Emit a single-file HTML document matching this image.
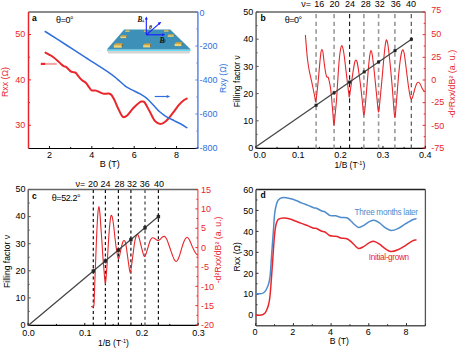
<!DOCTYPE html>
<html><head><meta charset="utf-8"><style>
html,body{margin:0;padding:0;background:#fff;}
svg{display:block;}
text{font-family:"Liberation Sans", sans-serif;}
</style></head><body>
<svg width="458" height="349" viewBox="0 0 458 349">
<rect width="458" height="349" fill="#fff"/>
<line x1="28.50" y1="12.00" x2="197.90" y2="12.00" stroke="#666" stroke-width="1.3" />
<line x1="28.50" y1="148.50" x2="197.90" y2="148.50" stroke="#000" stroke-width="1.2" />
<line x1="28.50" y1="12.00" x2="28.50" y2="148.50" stroke="#e8262b" stroke-width="1.5" />
<line x1="197.90" y1="12.00" x2="197.90" y2="148.50" stroke="#5b86e6" stroke-width="1.5" />
<line x1="49.48" y1="148.50" x2="49.48" y2="146.00" stroke="#111" stroke-width="1" />
<line x1="70.66" y1="148.50" x2="70.66" y2="147.00" stroke="#111" stroke-width="1" />
<line x1="91.84" y1="148.50" x2="91.84" y2="146.00" stroke="#111" stroke-width="1" />
<line x1="113.02" y1="148.50" x2="113.02" y2="147.00" stroke="#111" stroke-width="1" />
<line x1="134.20" y1="148.50" x2="134.20" y2="146.00" stroke="#111" stroke-width="1" />
<line x1="155.38" y1="148.50" x2="155.38" y2="147.00" stroke="#111" stroke-width="1" />
<line x1="176.56" y1="148.50" x2="176.56" y2="146.00" stroke="#111" stroke-width="1" />
<line x1="197.74" y1="148.50" x2="197.74" y2="147.00" stroke="#111" stroke-width="1" />
<text x="49.48" y="157.50" font-size="9" fill="#000" text-anchor="middle" font-weight="normal" >2</text>
<text x="91.84" y="157.50" font-size="9" fill="#000" text-anchor="middle" font-weight="normal" >4</text>
<text x="134.20" y="157.50" font-size="9" fill="#000" text-anchor="middle" font-weight="normal" >6</text>
<text x="176.56" y="157.50" font-size="9" fill="#000" text-anchor="middle" font-weight="normal" >8</text>
<text x="109.75" y="167.30" font-size="9" fill="#000" text-anchor="middle" font-weight="normal" textLength="20.20" lengthAdjust="spacingAndGlyphs" >B (T)</text>
<line x1="28.50" y1="125.30" x2="31.00" y2="125.30" stroke="#e8262b" stroke-width="1" />
<line x1="28.50" y1="102.60" x2="30.00" y2="102.60" stroke="#e8262b" stroke-width="1" />
<line x1="28.50" y1="79.90" x2="31.00" y2="79.90" stroke="#e8262b" stroke-width="1" />
<line x1="28.50" y1="57.20" x2="30.00" y2="57.20" stroke="#e8262b" stroke-width="1" />
<line x1="28.50" y1="34.50" x2="31.00" y2="34.50" stroke="#e8262b" stroke-width="1" />
<text x="25.20" y="127.90" font-size="9" fill="#e8262b" text-anchor="end" font-weight="normal" >30</text>
<text x="25.20" y="82.50" font-size="9" fill="#e8262b" text-anchor="end" font-weight="normal" >40</text>
<text x="25.20" y="37.10" font-size="9" fill="#e8262b" text-anchor="end" font-weight="normal" >50</text>
<text transform="translate(7.70,82.10) rotate(-90)" font-size="8.6" fill="#e8262b" text-anchor="middle" textLength="30.00" lengthAdjust="spacingAndGlyphs">Rxx (&#937;)</text>
<line x1="197.90" y1="12.00" x2="195.40" y2="12.00" stroke="#5b86e6" stroke-width="1" />
<line x1="197.90" y1="29.00" x2="196.40" y2="29.00" stroke="#5b86e6" stroke-width="1" />
<line x1="197.90" y1="46.00" x2="195.40" y2="46.00" stroke="#5b86e6" stroke-width="1" />
<line x1="197.90" y1="63.00" x2="196.40" y2="63.00" stroke="#5b86e6" stroke-width="1" />
<line x1="197.90" y1="80.00" x2="195.40" y2="80.00" stroke="#5b86e6" stroke-width="1" />
<line x1="197.90" y1="97.00" x2="196.40" y2="97.00" stroke="#5b86e6" stroke-width="1" />
<line x1="197.90" y1="114.00" x2="195.40" y2="114.00" stroke="#5b86e6" stroke-width="1" />
<line x1="197.90" y1="131.00" x2="196.40" y2="131.00" stroke="#5b86e6" stroke-width="1" />
<line x1="197.90" y1="148.00" x2="195.40" y2="148.00" stroke="#5b86e6" stroke-width="1" />
<text x="199.50" y="16.00" font-size="9" fill="#2f6fdc" text-anchor="start" font-weight="normal" >0</text>
<text x="199.50" y="49.20" font-size="9" fill="#2f6fdc" text-anchor="start" font-weight="normal" >-200</text>
<text x="199.50" y="83.20" font-size="9" fill="#2f6fdc" text-anchor="start" font-weight="normal" >-400</text>
<text x="199.50" y="117.20" font-size="9" fill="#2f6fdc" text-anchor="start" font-weight="normal" >-600</text>
<text x="199.50" y="151.20" font-size="9" fill="#2f6fdc" text-anchor="start" font-weight="normal" >-800</text>
<text transform="translate(225.70,78.25) rotate(-90)" font-size="8.6" fill="#2f6fdc" text-anchor="middle" textLength="29.40" lengthAdjust="spacingAndGlyphs">Rxy (&#937;)</text>
<text x="32.10" y="20.80" font-size="8.5" fill="#000" text-anchor="start" font-weight="bold" >a</text>
<text x="64.85" y="22.50" font-size="9" fill="#000" text-anchor="middle" font-weight="normal" textLength="17.60" lengthAdjust="spacing" >&#952;=0&#176;</text>
<polygon points="106.8,49.4 190.8,49.4 190.3,51.0 107.3,51.0" fill="#66def5"/>
<polygon points="107.3,51.0 190.3,51.0 189.4,53.4 108.4,53.4" fill="#d6d3d3"/>
<polygon points="124.2,29.6 170.2,29.6 190.8,49.4 106.8,49.4" fill="#3d90b8"/>
<polygon points="125.8,30.0 130.2,30.0 129.8,30.8 125.2,30.8" fill="#d6a23c"/>
<rect x="125.2" y="30.8" width="4.6" height="0.9" fill="#f0d470"/>
<polygon points="129.8,30.8 130.2,30.0 130.2,31.0 129.8,31.7" fill="#8a6420"/>
<polygon points="144.3,30.2 146.9,30.2 146.6,30.9 143.8,30.9" fill="#d6a23c"/>
<rect x="143.8" y="30.9" width="2.8" height="0.8" fill="#f0d470"/>
<polygon points="146.6,30.9 146.9,30.2 146.9,31.1 146.6,31.7" fill="#8a6420"/>
<polygon points="164.6,29.9 169.0,29.9 168.6,30.7 164.0,30.7" fill="#d6a23c"/>
<rect x="164.0" y="30.7" width="4.6" height="0.9" fill="#f0d470"/>
<polygon points="168.6,30.7 169.0,29.9 169.0,30.9 168.6,31.6" fill="#8a6420"/>
<polygon points="121.3,35.2 126.9,35.2 126.3,36.5 120.3,36.5" fill="#d6a23c"/>
<rect x="120.3" y="36.5" width="6.0" height="1.6" fill="#f0d470"/>
<polygon points="126.3,36.5 126.9,35.2 126.9,36.9 126.3,38.1" fill="#8a6420"/>
<polygon points="168.7,34.2 174.3,34.2 173.8,35.4 167.8,35.4" fill="#d6a23c"/>
<rect x="167.8" y="35.4" width="6.0" height="1.4" fill="#f0d470"/>
<polygon points="173.8,35.4 174.3,34.2 174.3,35.8 173.8,36.8" fill="#8a6420"/>
<polygon points="115.4,43.2 122.7,43.2 121.8,45.2 113.8,45.2" fill="#d6a23c"/>
<rect x="113.8" y="45.2" width="8.0" height="2.5" fill="#f0d470"/>
<polygon points="121.8,45.2 122.7,43.2 122.7,45.9 121.8,47.7" fill="#8a6420"/>
<polygon points="144.6,43.4 151.0,43.4 150.2,45.2 143.2,45.2" fill="#d6a23c"/>
<rect x="143.2" y="45.2" width="7.0" height="2.2" fill="#f0d470"/>
<polygon points="150.2,45.2 151.0,43.4 151.0,45.8 150.2,47.4" fill="#8a6420"/>
<polygon points="176.0,42.2 182.4,42.2 181.6,44.0 174.6,44.0" fill="#d6a23c"/>
<rect x="174.6" y="44.0" width="7.0" height="2.1" fill="#f0d470"/>
<polygon points="181.6,44.0 182.4,42.2 182.4,44.5 181.6,46.1" fill="#8a6420"/>
<line x1="146.30" y1="34.80" x2="146.30" y2="18.50" stroke="#1a1aff" stroke-width="1.1" />
<polygon points="146.3,16.5 144.8,19.5 147.8,19.5" fill="#1a1aff"/>
<line x1="146.30" y1="34.80" x2="162.80" y2="34.80" stroke="#1a1aff" stroke-width="1.1" />
<polygon points="165.2,34.8 162.2,33.3 162.2,36.3" fill="#1a1aff"/>
<line x1="146.30" y1="34.80" x2="159.50" y2="23.30" stroke="#1a1aff" stroke-width="1.1" />
<polygon points="161.3,21.7 157.6,22.7 159.6,25" fill="#1a1aff"/>
<text x="137.6" y="21.7" font-size="7.2" style="font-family:&quot;Liberation Serif&quot;, serif;font-style:italic;font-weight:bold" fill="#111">B</text>
<path d="M143.3,19.6 L143.3,21.6 M142.2,21.6 L144.4,21.6" stroke="#111" stroke-width="0.5" fill="none"/>
<text x="149.0" y="28.5" font-size="5.6" style="font-family:&quot;Liberation Serif&quot;, serif;font-style:italic;font-weight:bold" fill="#111">&#952;</text>
<text x="159.4" y="42.8" font-size="7.6" style="font-family:&quot;Liberation Serif&quot;, serif;font-style:italic;font-weight:bold" fill="#111">B</text>
<path d="M164.2,39.6 L163.5,42.6 M165.4,39.6 L164.7,42.6" stroke="#111" stroke-width="0.45" fill="none"/>
<path d="M45.50,52.60 C46.17,52.97 48.18,54.03 49.50,54.80 C50.82,55.57 52.10,56.27 53.40,57.20 C54.70,58.13 56.12,59.35 57.30,60.40 C58.48,61.45 59.45,62.55 60.50,63.50 C61.55,64.45 62.68,65.53 63.60,66.10 C64.52,66.67 65.20,66.40 66.00,66.90 C66.80,67.40 67.62,68.35 68.40,69.10 C69.18,69.85 69.92,70.90 70.70,71.40 C71.48,71.90 72.30,71.90 73.10,72.10 C73.90,72.30 74.72,72.07 75.50,72.60 C76.28,73.13 77.13,74.47 77.80,75.30 C78.47,76.13 78.73,76.73 79.50,77.60 C80.27,78.47 81.35,79.63 82.40,80.50 C83.45,81.37 84.67,81.65 85.80,82.80 C86.93,83.95 88.25,86.15 89.20,87.40 C90.15,88.65 90.35,89.77 91.50,90.30 C92.65,90.83 94.57,90.22 96.10,90.60 C97.63,90.98 99.37,92.07 100.70,92.60 C102.03,93.13 102.77,93.65 104.10,93.80 C105.43,93.95 107.47,93.30 108.70,93.50 C109.93,93.70 110.57,93.97 111.50,95.00 C112.43,96.03 113.12,97.30 114.30,99.70 C115.48,102.10 117.17,106.53 118.60,109.40 C120.03,112.27 121.47,115.90 122.90,116.90 C124.33,117.90 125.42,116.92 127.20,115.40 C128.98,113.88 131.50,110.00 133.60,107.80 C135.70,105.60 138.37,103.23 139.80,102.20 C141.23,101.17 141.40,101.57 142.20,101.60 C143.00,101.63 143.35,100.75 144.60,102.40 C145.85,104.05 147.95,108.37 149.70,111.50 C151.45,114.63 153.30,119.12 155.10,121.20 C156.90,123.28 158.72,124.00 160.50,124.00 C162.28,124.00 163.83,122.92 165.80,121.20 C167.77,119.48 170.15,116.38 172.30,113.70 C174.45,111.02 176.78,107.35 178.70,105.10 C180.62,102.85 182.45,101.28 183.80,100.20 C185.15,99.12 186.30,98.87 186.80,98.60" fill="none" stroke="#e8262b" stroke-width="2.0" stroke-linejoin="round" stroke-linecap="round" />
<path d="M45.20,31.50 C48.72,33.75 59.53,40.65 66.30,45.00 C73.07,49.35 78.52,52.88 85.80,57.60 C93.08,62.32 104.72,69.68 110.00,73.30 C115.28,76.92 115.00,77.22 117.50,79.30 C120.00,81.38 122.67,84.08 125.00,85.80 C127.33,87.52 128.98,88.25 131.50,89.60 C134.02,90.95 137.60,92.47 140.10,93.90 C142.60,95.33 144.35,96.40 146.50,98.20 C148.65,100.00 150.85,102.48 153.00,104.70 C155.15,106.92 157.27,109.57 159.40,111.50 C161.53,113.43 163.30,114.75 165.80,116.30 C168.30,117.85 171.88,119.52 174.40,120.80 C176.92,122.08 178.82,122.85 180.90,124.00 C182.98,125.15 185.90,127.08 186.90,127.70" fill="none" stroke="#2f6fdc" stroke-width="1.5" stroke-linejoin="round" stroke-linecap="round" />
<rect x="45.1" y="62.9" width="11.6" height="2.0" fill="#f2a3a5"/>
<rect x="40.8" y="62.8" width="4.4" height="2.2" fill="#e8262b"/>
<line x1="154.70" y1="96.50" x2="167.50" y2="96.50" stroke="#2f6fdc" stroke-width="1.2" />
<polygon points="170.2,96.5 166.8,95 166.8,98" fill="#2f6fdc"/>
<line x1="256.10" y1="12.00" x2="425.20" y2="12.00" stroke="#666" stroke-width="1.3" />
<line x1="256.10" y1="148.40" x2="425.20" y2="148.40" stroke="#000" stroke-width="1.2" />
<line x1="256.10" y1="12.00" x2="256.10" y2="148.40" stroke="#666" stroke-width="1.5" />
<line x1="425.20" y1="12.00" x2="425.20" y2="148.40" stroke="#ec3f44" stroke-width="1.1" />
<line x1="316.10" y1="14.00" x2="316.10" y2="148.40" stroke="#999" stroke-width="1.6" stroke-dasharray="4.3 3.37"/>
<line x1="334.10" y1="14.00" x2="334.10" y2="148.40" stroke="#999" stroke-width="1.6" stroke-dasharray="4.3 3.37"/>
<line x1="349.60" y1="14.00" x2="349.60" y2="148.40" stroke="#111" stroke-width="1.1" stroke-dasharray="4.3 3.37"/>
<line x1="363.90" y1="14.00" x2="363.90" y2="148.40" stroke="#999" stroke-width="1.6" stroke-dasharray="4.3 3.37"/>
<line x1="378.60" y1="14.00" x2="378.60" y2="148.40" stroke="#999" stroke-width="1.6" stroke-dasharray="4.3 3.37"/>
<line x1="394.90" y1="14.00" x2="394.90" y2="148.40" stroke="#888" stroke-width="1.4" stroke-dasharray="4.3 3.37"/>
<line x1="411.30" y1="14.00" x2="411.30" y2="148.40" stroke="#555" stroke-width="1.2" stroke-dasharray="4.3 3.37"/>
<line x1="256.10" y1="148.00" x2="258.60" y2="148.00" stroke="#555" stroke-width="1" />
<line x1="256.10" y1="134.40" x2="257.60" y2="134.40" stroke="#555" stroke-width="1" />
<line x1="256.10" y1="120.80" x2="258.60" y2="120.80" stroke="#555" stroke-width="1" />
<line x1="256.10" y1="107.20" x2="257.60" y2="107.20" stroke="#555" stroke-width="1" />
<line x1="256.10" y1="93.60" x2="258.60" y2="93.60" stroke="#555" stroke-width="1" />
<line x1="256.10" y1="80.00" x2="257.60" y2="80.00" stroke="#555" stroke-width="1" />
<line x1="256.10" y1="66.40" x2="258.60" y2="66.40" stroke="#555" stroke-width="1" />
<line x1="256.10" y1="52.80" x2="257.60" y2="52.80" stroke="#555" stroke-width="1" />
<line x1="256.10" y1="39.20" x2="258.60" y2="39.20" stroke="#555" stroke-width="1" />
<line x1="256.10" y1="25.60" x2="257.60" y2="25.60" stroke="#555" stroke-width="1" />
<line x1="256.10" y1="12.00" x2="258.60" y2="12.00" stroke="#555" stroke-width="1" />
<text x="253.30" y="151.20" font-size="9" fill="#000" text-anchor="end" font-weight="normal" >0</text>
<text x="253.30" y="124.00" font-size="9" fill="#000" text-anchor="end" font-weight="normal" >10</text>
<text x="253.30" y="96.80" font-size="9" fill="#000" text-anchor="end" font-weight="normal" >20</text>
<text x="253.30" y="69.60" font-size="9" fill="#000" text-anchor="end" font-weight="normal" >30</text>
<text x="253.30" y="42.40" font-size="9" fill="#000" text-anchor="end" font-weight="normal" >40</text>
<text x="253.30" y="15.20" font-size="9" fill="#000" text-anchor="end" font-weight="normal" >50</text>
<line x1="255.90" y1="148.40" x2="255.90" y2="145.90" stroke="#111" stroke-width="1" />
<line x1="277.07" y1="148.40" x2="277.07" y2="146.90" stroke="#111" stroke-width="1" />
<line x1="298.25" y1="148.40" x2="298.25" y2="145.90" stroke="#111" stroke-width="1" />
<line x1="319.43" y1="148.40" x2="319.43" y2="146.90" stroke="#111" stroke-width="1" />
<line x1="340.60" y1="148.40" x2="340.60" y2="145.90" stroke="#111" stroke-width="1" />
<line x1="361.77" y1="148.40" x2="361.77" y2="146.90" stroke="#111" stroke-width="1" />
<line x1="382.95" y1="148.40" x2="382.95" y2="145.90" stroke="#111" stroke-width="1" />
<line x1="404.12" y1="148.40" x2="404.12" y2="146.90" stroke="#111" stroke-width="1" />
<line x1="425.30" y1="148.40" x2="425.30" y2="145.90" stroke="#111" stroke-width="1" />
<text x="259.80" y="157.90" font-size="9" fill="#000" text-anchor="middle" font-weight="normal" >0.0</text>
<text x="298.25" y="157.90" font-size="9" fill="#000" text-anchor="middle" font-weight="normal" >0.1</text>
<text x="340.60" y="157.90" font-size="9" fill="#000" text-anchor="middle" font-weight="normal" >0.2</text>
<text x="382.95" y="157.90" font-size="9" fill="#000" text-anchor="middle" font-weight="normal" >0.3</text>
<text x="425.30" y="157.90" font-size="9" fill="#000" text-anchor="middle" font-weight="normal" >0.4</text>
<text x="334.6" y="167.7" font-size="8.6" textLength="30.6" lengthAdjust="spacingAndGlyphs">1/B (T<tspan font-size="5.5" dy="-3.2">-1</tspan><tspan dy="3.2">)</tspan></text>
<line x1="425.20" y1="148.00" x2="422.70" y2="148.00" stroke="#e8262b" stroke-width="1" />
<line x1="425.20" y1="125.33" x2="422.70" y2="125.33" stroke="#e8262b" stroke-width="1" />
<line x1="425.20" y1="102.67" x2="422.70" y2="102.67" stroke="#e8262b" stroke-width="1" />
<line x1="425.20" y1="80.00" x2="422.70" y2="80.00" stroke="#e8262b" stroke-width="1" />
<line x1="425.20" y1="57.33" x2="422.70" y2="57.33" stroke="#e8262b" stroke-width="1" />
<line x1="425.20" y1="34.67" x2="422.70" y2="34.67" stroke="#e8262b" stroke-width="1" />
<line x1="425.20" y1="12.00" x2="422.70" y2="12.00" stroke="#e8262b" stroke-width="1" />
<line x1="425.20" y1="136.67" x2="423.70" y2="136.67" stroke="#e8262b" stroke-width="1" />
<line x1="425.20" y1="114.00" x2="423.70" y2="114.00" stroke="#e8262b" stroke-width="1" />
<line x1="425.20" y1="91.33" x2="423.70" y2="91.33" stroke="#e8262b" stroke-width="1" />
<line x1="425.20" y1="68.67" x2="423.70" y2="68.67" stroke="#e8262b" stroke-width="1" />
<line x1="425.20" y1="46.00" x2="423.70" y2="46.00" stroke="#e8262b" stroke-width="1" />
<line x1="425.20" y1="23.33" x2="423.70" y2="23.33" stroke="#e8262b" stroke-width="1" />
<text x="431.20" y="13.20" font-size="9" fill="#e8262b" text-anchor="start" font-weight="normal" >75</text>
<text x="431.20" y="36.80" font-size="9" fill="#e8262b" text-anchor="start" font-weight="normal" >50</text>
<text x="431.20" y="60.20" font-size="9" fill="#e8262b" text-anchor="start" font-weight="normal" >25</text>
<text x="431.20" y="83.00" font-size="9" fill="#e8262b" text-anchor="start" font-weight="normal" >0</text>
<text x="431.20" y="105.20" font-size="9" fill="#e8262b" text-anchor="start" font-weight="normal" >-25</text>
<text x="431.20" y="128.50" font-size="9" fill="#e8262b" text-anchor="start" font-weight="normal" >-50</text>
<text x="431.20" y="151.20" font-size="9" fill="#e8262b" text-anchor="start" font-weight="normal" >-75</text>
<text transform="translate(454.70,84.00) rotate(-90)" font-size="8.2" fill="#e8262b" text-anchor="middle" textLength="68.20" lengthAdjust="spacingAndGlyphs">-d&#178;Rxx/dB&#178; (a. u.)</text>
<text transform="translate(239.80,81.25) rotate(-90)" font-size="8.3" fill="#000" text-anchor="middle" textLength="51.80" lengthAdjust="spacingAndGlyphs">Filling factor &#957;</text>
<text x="260.60" y="20.90" font-size="8.5" fill="#000" text-anchor="start" font-weight="bold" >b</text>
<text x="293.35" y="22.60" font-size="9" fill="#000" text-anchor="middle" font-weight="normal" textLength="17.40" lengthAdjust="spacing" >&#952;=0&#176;</text>
<text x="301.20" y="7.20" font-size="9" fill="#000" text-anchor="start" font-weight="normal" >&#957;=</text>
<text x="319.20" y="7.20" font-size="9" fill="#000" text-anchor="middle" font-weight="normal" >16</text>
<text x="334.40" y="7.20" font-size="9" fill="#000" text-anchor="middle" font-weight="normal" >20</text>
<text x="349.90" y="7.20" font-size="9" fill="#000" text-anchor="middle" font-weight="normal" >24</text>
<text x="365.70" y="7.20" font-size="9" fill="#000" text-anchor="middle" font-weight="normal" >28</text>
<text x="379.80" y="7.20" font-size="9" fill="#000" text-anchor="middle" font-weight="normal" >32</text>
<text x="395.80" y="7.20" font-size="9" fill="#000" text-anchor="middle" font-weight="normal" >36</text>
<text x="411.10" y="7.20" font-size="9" fill="#000" text-anchor="middle" font-weight="normal" >40</text>
<path d="M305.40,35.20 C305.60,37.67 306.23,45.87 306.60,50.00 C306.97,54.13 307.15,56.50 307.60,60.00 C308.05,63.50 308.68,67.67 309.30,71.00 C309.92,74.33 310.65,77.00 311.30,80.00 C311.95,83.00 312.62,86.17 313.20,89.00 C313.78,91.83 314.40,94.92 314.80,97.00 C315.20,99.08 315.30,101.67 315.60,101.50 C315.90,101.33 316.15,99.58 316.60,96.00 C317.05,92.42 317.77,85.50 318.30,80.00 C318.83,74.50 319.35,67.67 319.80,63.00 C320.25,58.33 320.65,54.25 321.00,52.00 C321.35,49.75 321.58,49.50 321.90,49.50 C322.22,49.50 322.52,49.75 322.90,52.00 C323.28,54.25 323.77,59.67 324.20,63.00 C324.63,66.33 325.10,69.75 325.50,72.00 C325.90,74.25 326.27,75.63 326.60,76.50 C326.93,77.37 327.22,77.03 327.50,77.20 C327.78,77.37 328.02,76.87 328.30,77.50 C328.58,78.13 328.85,79.38 329.20,81.00 C329.55,82.62 330.02,84.53 330.40,87.20 C330.78,89.87 331.13,93.20 331.50,97.00 C331.87,100.80 332.28,106.17 332.60,110.00 C332.92,113.83 333.18,117.42 333.40,120.00 C333.62,122.58 333.70,125.50 333.90,125.50 C334.10,125.50 334.32,122.58 334.60,120.00 C334.88,117.42 335.27,113.50 335.60,110.00 C335.93,106.50 336.23,104.00 336.60,99.00 C336.97,94.00 337.37,86.50 337.80,80.00 C338.23,73.50 338.73,65.17 339.20,60.00 C339.67,54.83 340.17,51.42 340.60,49.00 C341.03,46.58 341.40,45.58 341.80,45.50 C342.20,45.42 342.57,46.58 343.00,48.50 C343.43,50.42 343.92,53.42 344.40,57.00 C344.88,60.58 345.37,65.50 345.90,70.00 C346.43,74.50 347.13,80.17 347.60,84.00 C348.07,87.83 348.42,90.83 348.70,93.00 C348.98,95.17 349.07,97.17 349.30,97.00 C349.53,96.83 349.72,94.50 350.10,92.00 C350.48,89.50 351.07,85.67 351.60,82.00 C352.13,78.33 352.77,73.33 353.30,70.00 C353.83,66.67 354.37,63.67 354.80,62.00 C355.23,60.33 355.52,60.00 355.90,60.00 C356.28,60.00 356.67,60.33 357.10,62.00 C357.53,63.67 357.95,66.33 358.50,70.00 C359.05,73.67 359.78,79.00 360.40,84.00 C361.02,89.00 361.73,95.50 362.20,100.00 C362.67,104.50 362.92,108.45 363.20,111.00 C363.48,113.55 363.65,115.30 363.90,115.30 C364.15,115.30 364.32,114.38 364.70,111.00 C365.08,107.62 365.72,100.50 366.20,95.00 C366.68,89.50 367.17,83.17 367.60,78.00 C368.03,72.83 368.40,68.00 368.80,64.00 C369.20,60.00 369.63,56.25 370.00,54.00 C370.37,51.75 370.65,50.50 371.00,50.50 C371.35,50.50 371.72,51.92 372.10,54.00 C372.48,56.08 372.88,59.50 373.30,63.00 C373.72,66.50 374.10,70.17 374.60,75.00 C375.10,79.83 375.80,87.00 376.30,92.00 C376.80,97.00 377.23,101.67 377.60,105.00 C377.97,108.33 378.20,111.83 378.50,112.00 C378.80,112.17 379.03,109.17 379.40,106.00 C379.77,102.83 380.25,97.67 380.70,93.00 C381.15,88.33 381.63,83.17 382.10,78.00 C382.57,72.83 383.02,67.17 383.50,62.00 C383.98,56.83 384.52,50.67 385.00,47.00 C385.48,43.33 385.93,40.50 386.40,40.00 C386.87,39.50 387.32,41.33 387.80,44.00 C388.28,46.67 388.80,51.50 389.30,56.00 C389.80,60.50 390.28,65.50 390.80,71.00 C391.32,76.50 391.90,82.83 392.40,89.00 C392.90,95.17 393.40,103.33 393.80,108.00 C394.20,112.67 394.47,116.67 394.80,117.00 C395.13,117.33 395.38,114.33 395.80,110.00 C396.22,105.67 396.80,97.17 397.30,91.00 C397.80,84.83 398.28,78.33 398.80,73.00 C399.32,67.67 399.92,62.50 400.40,59.00 C400.88,55.50 401.28,53.53 401.70,52.00 C402.12,50.47 402.50,49.63 402.90,49.80 C403.30,49.97 403.68,50.97 404.10,53.00 C404.52,55.03 404.92,58.33 405.40,62.00 C405.88,65.67 406.45,70.67 407.00,75.00 C407.55,79.33 408.15,84.33 408.70,88.00 C409.25,91.67 409.85,95.08 410.30,97.00 C410.75,98.92 411.02,99.50 411.40,99.50 C411.78,99.50 412.08,98.58 412.60,97.00 C413.12,95.42 413.85,92.17 414.50,90.00 C415.15,87.83 415.87,85.28 416.50,84.00 C417.13,82.72 417.68,82.30 418.30,82.30 C418.92,82.30 419.55,82.97 420.20,84.00 C420.85,85.03 421.53,87.25 422.20,88.50 C422.87,89.75 423.87,91.00 424.20,91.50" fill="none" stroke="#e8262b" stroke-width="1.1" stroke-linejoin="round" stroke-linecap="round" />
<line x1="256.00" y1="146.80" x2="411.50" y2="39.20" stroke="#444" stroke-width="1.25" />
<rect x="314.60" y="103.71" width="3" height="3" fill="#222"/>
<rect x="332.60" y="91.26" width="3" height="3" fill="#222"/>
<rect x="348.10" y="80.53" width="3" height="3" fill="#222"/>
<rect x="362.70" y="70.43" width="3" height="3" fill="#222"/>
<rect x="377.10" y="60.47" width="3" height="3" fill="#222"/>
<rect x="393.50" y="49.12" width="3" height="3" fill="#222"/>
<rect x="409.90" y="37.77" width="3" height="3" fill="#222"/>
<line x1="28.20" y1="189.50" x2="197.90" y2="189.50" stroke="#666" stroke-width="1.3" />
<line x1="28.20" y1="325.40" x2="197.90" y2="325.40" stroke="#000" stroke-width="1.2" />
<line x1="28.20" y1="189.50" x2="28.20" y2="325.40" stroke="#666" stroke-width="1.5" />
<line x1="197.90" y1="189.50" x2="197.90" y2="325.40" stroke="#ec3f44" stroke-width="1.1" />
<line x1="93.30" y1="190.10" x2="93.30" y2="325.40" stroke="#111" stroke-width="1.2" stroke-dasharray="3.0 2.76"/>
<line x1="105.40" y1="190.10" x2="105.40" y2="325.40" stroke="#111" stroke-width="1.2" stroke-dasharray="3.0 2.76"/>
<line x1="118.40" y1="190.10" x2="118.40" y2="325.40" stroke="#111" stroke-width="1.2" stroke-dasharray="3.0 2.76"/>
<line x1="130.90" y1="190.10" x2="130.90" y2="325.40" stroke="#111" stroke-width="1.2" stroke-dasharray="3.0 2.76"/>
<line x1="145.00" y1="190.10" x2="145.00" y2="325.40" stroke="#666" stroke-width="1.5" stroke-dasharray="3.0 2.76"/>
<line x1="158.40" y1="190.10" x2="158.40" y2="325.40" stroke="#111" stroke-width="1.2" stroke-dasharray="3.0 2.76"/>
<line x1="28.20" y1="325.00" x2="30.70" y2="325.00" stroke="#555" stroke-width="1" />
<line x1="28.20" y1="311.45" x2="29.70" y2="311.45" stroke="#555" stroke-width="1" />
<line x1="28.20" y1="297.90" x2="30.70" y2="297.90" stroke="#555" stroke-width="1" />
<line x1="28.20" y1="284.35" x2="29.70" y2="284.35" stroke="#555" stroke-width="1" />
<line x1="28.20" y1="270.80" x2="30.70" y2="270.80" stroke="#555" stroke-width="1" />
<line x1="28.20" y1="257.25" x2="29.70" y2="257.25" stroke="#555" stroke-width="1" />
<line x1="28.20" y1="243.70" x2="30.70" y2="243.70" stroke="#555" stroke-width="1" />
<line x1="28.20" y1="230.15" x2="29.70" y2="230.15" stroke="#555" stroke-width="1" />
<line x1="28.20" y1="216.60" x2="30.70" y2="216.60" stroke="#555" stroke-width="1" />
<line x1="28.20" y1="203.05" x2="29.70" y2="203.05" stroke="#555" stroke-width="1" />
<line x1="28.20" y1="189.50" x2="30.70" y2="189.50" stroke="#555" stroke-width="1" />
<text x="25.40" y="327.80" font-size="9" fill="#000" text-anchor="end" font-weight="normal" >0</text>
<text x="25.40" y="300.70" font-size="9" fill="#000" text-anchor="end" font-weight="normal" >10</text>
<text x="25.40" y="273.60" font-size="9" fill="#000" text-anchor="end" font-weight="normal" >20</text>
<text x="25.40" y="246.50" font-size="9" fill="#000" text-anchor="end" font-weight="normal" >30</text>
<text x="25.40" y="219.40" font-size="9" fill="#000" text-anchor="end" font-weight="normal" >40</text>
<text x="25.40" y="192.30" font-size="9" fill="#000" text-anchor="end" font-weight="normal" >50</text>
<line x1="28.10" y1="325.40" x2="28.10" y2="322.90" stroke="#111" stroke-width="1" />
<line x1="56.44" y1="325.40" x2="56.44" y2="323.90" stroke="#111" stroke-width="1" />
<line x1="84.77" y1="325.40" x2="84.77" y2="322.90" stroke="#111" stroke-width="1" />
<line x1="113.11" y1="325.40" x2="113.11" y2="323.90" stroke="#111" stroke-width="1" />
<line x1="141.44" y1="325.40" x2="141.44" y2="322.90" stroke="#111" stroke-width="1" />
<line x1="169.78" y1="325.40" x2="169.78" y2="323.90" stroke="#111" stroke-width="1" />
<line x1="198.11" y1="325.40" x2="198.11" y2="322.90" stroke="#111" stroke-width="1" />
<text x="28.60" y="335.80" font-size="9" fill="#000" text-anchor="middle" font-weight="normal" >0.0</text>
<text x="85.27" y="335.80" font-size="9" fill="#000" text-anchor="middle" font-weight="normal" >0.1</text>
<text x="141.94" y="335.80" font-size="9" fill="#000" text-anchor="middle" font-weight="normal" >0.2</text>
<text x="198.61" y="335.80" font-size="9" fill="#000" text-anchor="middle" font-weight="normal" >0.3</text>
<text x="98.0" y="346.2" font-size="8.6" textLength="30.8" lengthAdjust="spacingAndGlyphs">1/B (T<tspan font-size="5.5" dy="-3.2">-1</tspan><tspan dy="3.2">)</tspan></text>
<line x1="197.90" y1="325.00" x2="195.40" y2="325.00" stroke="#e8262b" stroke-width="1" />
<line x1="197.90" y1="305.65" x2="195.40" y2="305.65" stroke="#e8262b" stroke-width="1" />
<line x1="197.90" y1="286.30" x2="195.40" y2="286.30" stroke="#e8262b" stroke-width="1" />
<line x1="197.90" y1="266.95" x2="195.40" y2="266.95" stroke="#e8262b" stroke-width="1" />
<line x1="197.90" y1="247.60" x2="195.40" y2="247.60" stroke="#e8262b" stroke-width="1" />
<line x1="197.90" y1="228.25" x2="195.40" y2="228.25" stroke="#e8262b" stroke-width="1" />
<line x1="197.90" y1="208.90" x2="195.40" y2="208.90" stroke="#e8262b" stroke-width="1" />
<line x1="197.90" y1="189.55" x2="195.40" y2="189.55" stroke="#e8262b" stroke-width="1" />
<line x1="197.90" y1="315.32" x2="196.40" y2="315.32" stroke="#e8262b" stroke-width="1" />
<line x1="197.90" y1="295.98" x2="196.40" y2="295.98" stroke="#e8262b" stroke-width="1" />
<line x1="197.90" y1="276.62" x2="196.40" y2="276.62" stroke="#e8262b" stroke-width="1" />
<line x1="197.90" y1="257.27" x2="196.40" y2="257.27" stroke="#e8262b" stroke-width="1" />
<line x1="197.90" y1="237.92" x2="196.40" y2="237.92" stroke="#e8262b" stroke-width="1" />
<line x1="197.90" y1="218.57" x2="196.40" y2="218.57" stroke="#e8262b" stroke-width="1" />
<line x1="197.90" y1="199.22" x2="196.40" y2="199.22" stroke="#e8262b" stroke-width="1" />
<text x="200.90" y="192.75" font-size="9" fill="#e8262b" text-anchor="start" font-weight="normal" >15</text>
<text x="200.90" y="212.10" font-size="9" fill="#e8262b" text-anchor="start" font-weight="normal" >10</text>
<text x="200.90" y="231.45" font-size="9" fill="#e8262b" text-anchor="start" font-weight="normal" >5</text>
<text x="200.90" y="250.80" font-size="9" fill="#e8262b" text-anchor="start" font-weight="normal" >0</text>
<text x="200.90" y="270.15" font-size="9" fill="#e8262b" text-anchor="start" font-weight="normal" >-5</text>
<text x="200.90" y="289.50" font-size="9" fill="#e8262b" text-anchor="start" font-weight="normal" >-10</text>
<text x="200.90" y="308.85" font-size="9" fill="#e8262b" text-anchor="start" font-weight="normal" >-15</text>
<text x="200.90" y="328.20" font-size="9" fill="#e8262b" text-anchor="start" font-weight="normal" >-20</text>
<text transform="translate(221.00,249.90) rotate(-90)" font-size="8.2" fill="#e8262b" text-anchor="middle" textLength="66.80" lengthAdjust="spacingAndGlyphs">-d&#178;Rxx/dB&#178; (a. u.)</text>
<text transform="translate(9.90,261.50) rotate(-90)" font-size="8.3" fill="#000" text-anchor="middle" textLength="53.00" lengthAdjust="spacingAndGlyphs">Filling factor &#957;</text>
<text x="32.10" y="199.30" font-size="8.5" fill="#000" text-anchor="start" font-weight="bold" >c</text>
<text x="66.20" y="201.00" font-size="9" fill="#000" text-anchor="middle" font-weight="normal" textLength="28.90" lengthAdjust="spacing" >&#952;=52.2&#176;</text>
<text x="75.50" y="186.50" font-size="9" fill="#000" text-anchor="start" font-weight="normal" >&#957;=</text>
<text x="92.90" y="186.50" font-size="9" fill="#000" text-anchor="middle" font-weight="normal" >20</text>
<text x="105.50" y="186.50" font-size="9" fill="#000" text-anchor="middle" font-weight="normal" >24</text>
<text x="119.40" y="186.50" font-size="9" fill="#000" text-anchor="middle" font-weight="normal" >28</text>
<text x="131.90" y="186.50" font-size="9" fill="#000" text-anchor="middle" font-weight="normal" >32</text>
<text x="144.80" y="186.50" font-size="9" fill="#000" text-anchor="middle" font-weight="normal" >36</text>
<text x="158.90" y="186.50" font-size="9" fill="#000" text-anchor="middle" font-weight="normal" >40</text>
<path d="M91.50,306.60 C91.88,306.50 93.33,307.57 93.80,306.00 C94.27,304.43 94.12,301.53 94.30,297.20 C94.48,292.87 94.68,285.87 94.90,280.00 C95.12,274.13 95.37,268.00 95.60,262.00 C95.83,256.00 96.05,250.00 96.30,244.00 C96.55,238.00 96.82,231.33 97.10,226.00 C97.38,220.67 97.70,215.25 98.00,212.00 C98.30,208.75 98.60,206.50 98.90,206.50 C99.20,206.50 99.48,208.75 99.80,212.00 C100.12,215.25 100.47,221.33 100.80,226.00 C101.13,230.67 101.43,234.67 101.80,240.00 C102.17,245.33 102.58,252.33 103.00,258.00 C103.42,263.67 103.92,269.75 104.30,274.00 C104.68,278.25 104.97,283.33 105.30,283.50 C105.63,283.67 105.93,279.25 106.30,275.00 C106.67,270.75 107.10,264.17 107.50,258.00 C107.90,251.83 108.30,243.83 108.70,238.00 C109.10,232.17 109.55,226.58 109.90,223.00 C110.25,219.42 110.52,217.77 110.80,216.50 C111.08,215.23 111.32,215.15 111.60,215.40 C111.88,215.65 112.15,216.23 112.50,218.00 C112.85,219.77 113.28,222.67 113.70,226.00 C114.12,229.33 114.55,234.17 115.00,238.00 C115.45,241.83 115.97,246.00 116.40,249.00 C116.83,252.00 117.27,254.37 117.60,256.00 C117.93,257.63 118.08,258.80 118.40,258.80 C118.72,258.80 119.03,257.80 119.50,256.00 C119.97,254.20 120.65,250.33 121.20,248.00 C121.75,245.67 122.30,243.25 122.80,242.00 C123.30,240.75 123.73,240.33 124.20,240.50 C124.67,240.67 125.13,241.08 125.60,243.00 C126.07,244.92 126.52,248.67 127.00,252.00 C127.48,255.33 128.07,259.92 128.50,263.00 C128.93,266.08 129.30,268.95 129.60,270.50 C129.90,272.05 130.03,272.72 130.30,272.30 C130.57,271.88 130.78,270.72 131.20,268.00 C131.62,265.28 132.25,260.17 132.80,256.00 C133.35,251.83 133.97,246.25 134.50,243.00 C135.03,239.75 135.53,237.93 136.00,236.50 C136.47,235.07 136.85,234.40 137.30,234.40 C137.75,234.40 138.18,235.07 138.70,236.50 C139.22,237.93 139.80,240.67 140.40,243.00 C141.00,245.33 141.77,248.50 142.30,250.50 C142.83,252.50 143.20,254.00 143.60,255.00 C144.00,256.00 144.30,256.67 144.70,256.50 C145.10,256.33 145.48,255.42 146.00,254.00 C146.52,252.58 147.17,250.08 147.80,248.00 C148.43,245.92 149.20,243.08 149.80,241.50 C150.40,239.92 150.87,239.13 151.40,238.50 C151.93,237.87 152.47,237.70 153.00,237.70 C153.53,237.70 154.03,238.15 154.60,238.50 C155.17,238.85 155.80,239.45 156.40,239.80 C157.00,240.15 157.60,240.65 158.20,240.60 C158.80,240.55 159.37,240.03 160.00,239.50 C160.63,238.97 161.28,237.92 162.00,237.40 C162.72,236.88 163.57,236.22 164.30,236.40 C165.03,236.58 165.75,237.40 166.40,238.50 C167.05,239.60 167.57,241.28 168.20,243.00 C168.83,244.72 169.53,246.88 170.20,248.80 C170.87,250.72 171.53,252.72 172.20,254.50 C172.87,256.28 173.60,258.37 174.20,259.50 C174.80,260.63 175.27,261.13 175.80,261.30 C176.33,261.47 176.83,261.30 177.40,260.50 C177.97,259.70 178.57,258.25 179.20,256.50 C179.83,254.75 180.53,252.17 181.20,250.00 C181.87,247.83 182.53,245.33 183.20,243.50 C183.87,241.67 184.53,240.05 185.20,239.00 C185.87,237.95 186.53,237.12 187.20,237.20 C187.87,237.28 188.50,238.28 189.20,239.50 C189.90,240.72 190.67,242.83 191.40,244.50 C192.13,246.17 192.90,248.08 193.60,249.50 C194.30,250.92 194.98,252.12 195.60,253.00 C196.22,253.88 197.02,254.50 197.30,254.80" fill="none" stroke="#e8262b" stroke-width="1.1" stroke-linejoin="round" stroke-linecap="round" />
<line x1="28.20" y1="325.50" x2="158.40" y2="216.60" stroke="#444" stroke-width="1.25" />
<rect x="91.60" y="269.35" width="3.4" height="3.4" fill="#2a2a2a"/>
<line x1="93.30" y1="268.45" x2="93.30" y2="273.65" stroke="#222" stroke-width="0.9" />
<rect x="103.70" y="259.23" width="3.4" height="3.4" fill="#2a2a2a"/>
<line x1="105.40" y1="258.33" x2="105.40" y2="263.53" stroke="#222" stroke-width="0.9" />
<rect x="116.70" y="248.36" width="3.4" height="3.4" fill="#2a2a2a"/>
<line x1="118.40" y1="247.46" x2="118.40" y2="252.66" stroke="#222" stroke-width="0.9" />
<rect x="129.20" y="237.90" width="3.4" height="3.4" fill="#2a2a2a"/>
<line x1="130.90" y1="237.00" x2="130.90" y2="242.20" stroke="#222" stroke-width="0.9" />
<rect x="143.30" y="226.11" width="3.4" height="3.4" fill="#2a2a2a"/>
<line x1="145.00" y1="225.21" x2="145.00" y2="230.41" stroke="#222" stroke-width="0.9" />
<rect x="156.70" y="214.90" width="3.4" height="3.4" fill="#2a2a2a"/>
<line x1="158.40" y1="213.40" x2="158.40" y2="219.80" stroke="#222" stroke-width="0.9" />
<line x1="256.00" y1="189.50" x2="425.40" y2="189.50" stroke="#222" stroke-width="1.3" />
<line x1="256.00" y1="325.70" x2="425.40" y2="325.70" stroke="#555" stroke-width="1.5" />
<line x1="256.00" y1="189.50" x2="256.00" y2="325.70" stroke="#555" stroke-width="1.5" />
<line x1="425.40" y1="189.50" x2="425.40" y2="325.70" stroke="#555" stroke-width="1.3" />
<line x1="256.00" y1="315.20" x2="258.50" y2="315.20" stroke="#333" stroke-width="1" />
<line x1="256.00" y1="304.72" x2="257.50" y2="304.72" stroke="#333" stroke-width="1" />
<line x1="256.00" y1="294.25" x2="258.50" y2="294.25" stroke="#333" stroke-width="1" />
<line x1="256.00" y1="283.77" x2="257.50" y2="283.77" stroke="#333" stroke-width="1" />
<line x1="256.00" y1="273.30" x2="258.50" y2="273.30" stroke="#333" stroke-width="1" />
<line x1="256.00" y1="262.82" x2="257.50" y2="262.82" stroke="#333" stroke-width="1" />
<line x1="256.00" y1="252.35" x2="258.50" y2="252.35" stroke="#333" stroke-width="1" />
<line x1="256.00" y1="241.88" x2="257.50" y2="241.88" stroke="#333" stroke-width="1" />
<line x1="256.00" y1="231.40" x2="258.50" y2="231.40" stroke="#333" stroke-width="1" />
<line x1="256.00" y1="220.92" x2="257.50" y2="220.92" stroke="#333" stroke-width="1" />
<line x1="256.00" y1="210.45" x2="258.50" y2="210.45" stroke="#333" stroke-width="1" />
<line x1="256.00" y1="199.97" x2="257.50" y2="199.97" stroke="#333" stroke-width="1" />
<line x1="256.00" y1="189.50" x2="258.50" y2="189.50" stroke="#333" stroke-width="1" />
<text x="253.30" y="318.40" font-size="9" fill="#000" text-anchor="end" font-weight="normal" >0</text>
<text x="253.30" y="297.45" font-size="9" fill="#000" text-anchor="end" font-weight="normal" >10</text>
<text x="253.30" y="276.50" font-size="9" fill="#000" text-anchor="end" font-weight="normal" >20</text>
<text x="253.30" y="255.55" font-size="9" fill="#000" text-anchor="end" font-weight="normal" >30</text>
<text x="253.30" y="234.60" font-size="9" fill="#000" text-anchor="end" font-weight="normal" >40</text>
<text x="253.30" y="213.65" font-size="9" fill="#000" text-anchor="end" font-weight="normal" >50</text>
<text x="253.30" y="192.70" font-size="9" fill="#000" text-anchor="end" font-weight="normal" >60</text>
<line x1="255.70" y1="325.70" x2="255.70" y2="323.20" stroke="#222" stroke-width="1" />
<line x1="274.55" y1="325.70" x2="274.55" y2="324.20" stroke="#222" stroke-width="1" />
<line x1="293.40" y1="325.70" x2="293.40" y2="323.20" stroke="#222" stroke-width="1" />
<line x1="312.25" y1="325.70" x2="312.25" y2="324.20" stroke="#222" stroke-width="1" />
<line x1="331.10" y1="325.70" x2="331.10" y2="323.20" stroke="#222" stroke-width="1" />
<line x1="349.95" y1="325.70" x2="349.95" y2="324.20" stroke="#222" stroke-width="1" />
<line x1="368.80" y1="325.70" x2="368.80" y2="323.20" stroke="#222" stroke-width="1" />
<line x1="387.65" y1="325.70" x2="387.65" y2="324.20" stroke="#222" stroke-width="1" />
<line x1="406.50" y1="325.70" x2="406.50" y2="323.20" stroke="#222" stroke-width="1" />
<line x1="425.35" y1="325.70" x2="425.35" y2="324.20" stroke="#222" stroke-width="1" />
<text x="255.10" y="335.20" font-size="9" fill="#000" text-anchor="middle" font-weight="normal" >0</text>
<text x="292.80" y="335.20" font-size="9" fill="#000" text-anchor="middle" font-weight="normal" >2</text>
<text x="330.50" y="335.20" font-size="9" fill="#000" text-anchor="middle" font-weight="normal" >4</text>
<text x="368.20" y="335.20" font-size="9" fill="#000" text-anchor="middle" font-weight="normal" >6</text>
<text x="405.90" y="335.20" font-size="9" fill="#000" text-anchor="middle" font-weight="normal" >8</text>
<text x="339.35" y="343.60" font-size="9" fill="#000" text-anchor="middle" font-weight="normal" textLength="19.20" lengthAdjust="spacingAndGlyphs" >B (T)</text>
<text transform="translate(239.50,256.80) rotate(-90)" font-size="8.6" fill="#000" text-anchor="middle" textLength="29.30" lengthAdjust="spacingAndGlyphs">Rxx (&#937;)</text>
<text x="260.50" y="198.20" font-size="8.5" fill="#000" text-anchor="start" font-weight="bold" >d</text>
<text x="386.30" y="214.90" font-size="8.2" fill="#4f8ccc" text-anchor="middle" font-weight="normal" textLength="63.60" lengthAdjust="spacing" >Three months later</text>
<text x="389.00" y="259.80" font-size="8.2" fill="#e8262b" text-anchor="middle" font-weight="normal" textLength="40.30" lengthAdjust="spacing" >Initial-grown</text>
<path d="M256.30,293.80 C256.83,293.80 258.50,293.87 259.50,293.80 C260.50,293.73 261.52,293.67 262.30,293.40 C263.08,293.13 263.62,292.72 264.20,292.20 C264.78,291.68 265.30,291.08 265.80,290.30 C266.30,289.52 266.77,288.47 267.20,287.50 C267.63,286.53 268.03,285.67 268.40,284.50 C268.77,283.33 269.08,282.25 269.40,280.50 C269.72,278.75 270.03,276.75 270.30,274.00 C270.57,271.25 270.75,267.62 271.00,264.00 C271.25,260.38 271.52,256.30 271.80,252.30 C272.08,248.30 272.40,244.05 272.70,240.00 C273.00,235.95 273.28,232.33 273.60,228.00 C273.92,223.67 274.20,217.65 274.60,214.00 C275.00,210.35 275.50,208.25 276.00,206.10 C276.50,203.95 276.95,202.35 277.60,201.10 C278.25,199.85 278.87,199.20 279.90,198.60 C280.93,198.00 282.13,197.50 283.80,197.50 C285.47,197.50 287.87,198.10 289.90,198.60 C291.93,199.10 293.97,199.75 296.00,200.50 C298.03,201.25 300.07,202.28 302.10,203.10 C304.13,203.92 306.28,204.63 308.20,205.40 C310.12,206.17 312.20,207.23 313.60,207.70 C315.00,208.17 315.33,207.68 316.60,208.20 C317.87,208.72 319.80,210.17 321.20,210.80 C322.60,211.43 323.60,211.23 325.00,212.00 C326.40,212.77 328.32,214.77 329.60,215.40 C330.88,216.03 331.68,215.73 332.70,215.80 C333.72,215.87 334.33,215.53 335.70,215.80 C337.07,216.07 339.05,217.07 340.90,217.40 C342.75,217.73 345.17,217.25 346.80,217.80 C348.43,218.35 349.38,219.55 350.70,220.70 C352.02,221.85 353.38,223.58 354.70,224.70 C356.02,225.82 357.13,227.25 358.60,227.40 C360.07,227.55 361.70,226.55 363.50,225.60 C365.30,224.65 367.60,222.58 369.40,221.70 C371.20,220.82 372.67,220.13 374.30,220.30 C375.93,220.47 377.40,221.48 379.20,222.70 C381.00,223.92 383.13,226.30 385.10,227.60 C387.07,228.90 388.87,230.33 391.00,230.50 C393.13,230.67 395.45,229.73 397.90,228.60 C400.35,227.47 403.25,225.18 405.70,223.70 C408.15,222.22 410.88,220.52 412.60,219.70 C414.32,218.88 415.43,218.95 416.00,218.80" fill="none" stroke="#4f8ccc" stroke-width="1.5" stroke-linejoin="round" stroke-linecap="round" />
<path d="M256.30,315.20 C256.83,315.20 258.50,315.27 259.50,315.20 C260.50,315.13 261.50,315.07 262.30,314.80 C263.10,314.53 263.72,314.10 264.30,313.60 C264.88,313.10 265.32,312.60 265.80,311.80 C266.28,311.00 266.77,309.88 267.20,308.80 C267.63,307.72 268.03,306.68 268.40,305.30 C268.77,303.92 269.10,302.38 269.40,300.50 C269.70,298.62 269.93,296.75 270.20,294.00 C270.47,291.25 270.73,287.50 271.00,284.00 C271.27,280.50 271.53,276.67 271.80,273.00 C272.07,269.33 272.33,265.83 272.60,262.00 C272.87,258.17 273.12,254.00 273.40,250.00 C273.68,246.00 273.98,241.58 274.30,238.00 C274.62,234.42 274.92,231.07 275.30,228.50 C275.68,225.93 276.12,224.08 276.60,222.60 C277.08,221.12 277.55,220.30 278.20,219.60 C278.85,218.90 279.57,218.67 280.50,218.40 C281.43,218.13 282.23,217.90 283.80,218.00 C285.37,218.10 287.87,218.45 289.90,219.00 C291.93,219.55 293.97,220.53 296.00,221.30 C298.03,222.07 300.07,222.83 302.10,223.60 C304.13,224.37 306.28,225.13 308.20,225.90 C310.12,226.67 312.20,227.77 313.60,228.20 C315.00,228.63 315.33,228.03 316.60,228.50 C317.87,228.97 319.80,230.42 321.20,231.00 C322.60,231.58 323.60,231.25 325.00,232.00 C326.40,232.75 328.20,234.80 329.60,235.50 C331.00,236.20 332.13,236.02 333.40,236.20 C334.67,236.38 335.95,236.30 337.20,236.60 C338.45,236.90 339.30,237.63 340.90,238.00 C342.50,238.37 345.17,238.23 346.80,238.80 C348.43,239.37 349.38,240.32 350.70,241.40 C352.02,242.48 353.38,244.13 354.70,245.30 C356.02,246.47 357.13,248.17 358.60,248.40 C360.07,248.63 361.70,247.65 363.50,246.70 C365.30,245.75 367.60,243.58 369.40,242.70 C371.20,241.82 372.67,241.20 374.30,241.40 C375.93,241.60 377.40,242.70 379.20,243.90 C381.00,245.10 383.13,247.32 385.10,248.60 C387.07,249.88 388.87,251.40 391.00,251.60 C393.13,251.80 395.45,250.85 397.90,249.80 C400.35,248.75 403.25,246.80 405.70,245.30 C408.15,243.80 410.88,241.68 412.60,240.80 C414.32,239.92 415.43,240.13 416.00,240.00" fill="none" stroke="#e8262b" stroke-width="1.5" stroke-linejoin="round" stroke-linecap="round" />
</svg>
</body></html>
